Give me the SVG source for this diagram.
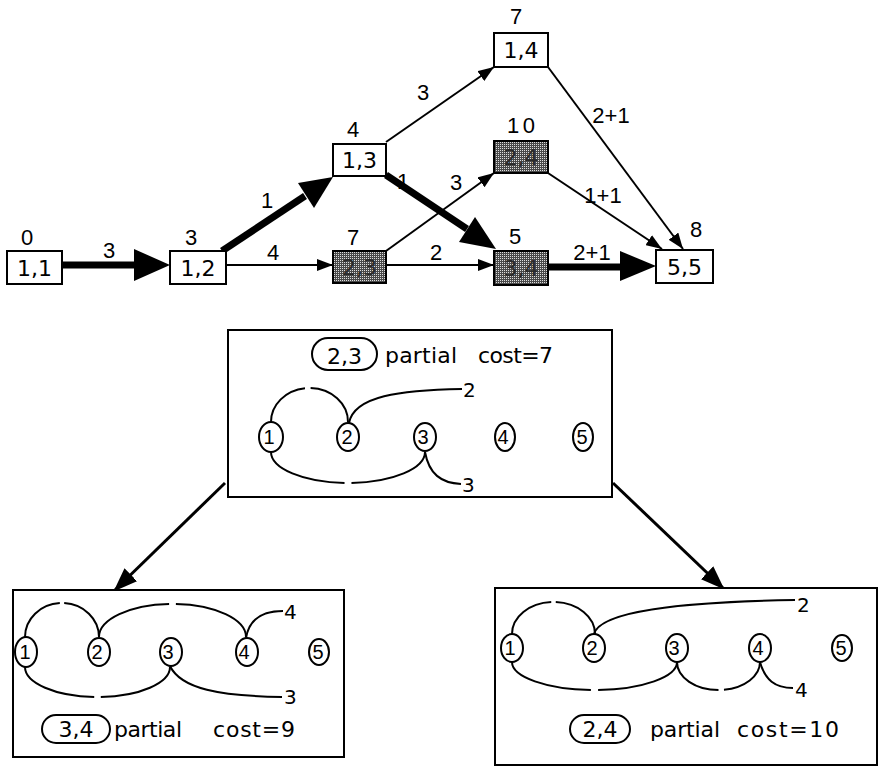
<svg xmlns="http://www.w3.org/2000/svg" width="879" height="768" viewBox="0 0 879 768">
<style>
text{font-family:'Liberation Sans',Arial,Helvetica,sans-serif;font-size:22px;fill:#000}
.d{font-family:'DejaVu Sans',Verdana,sans-serif;font-size:22px}
.m{text-anchor:middle}
.s{font-size:20px}
.box{fill:#fff;stroke:#000;stroke-width:2}
.sh{fill:url(#dots);stroke:#000;stroke-width:2}
.sht{fill:#2a2a2a}
.thin{stroke:#000;stroke-width:2;fill:none;marker-end:url(#ah)}
.thick{stroke:#000;stroke-width:7;fill:none}
.tree{stroke:#000;stroke-width:3;fill:none;marker-end:url(#ah2)}
.frame{fill:#fff;stroke:#000;stroke-width:2}
.arc{fill:none;stroke:#000;stroke-width:2}
.c{fill:none;stroke:#000;stroke-width:2}
</style>
<defs>
<pattern id="dots" width="2" height="2" patternUnits="userSpaceOnUse"><rect width="2" height="2" fill="#4a4a4a"/><rect width="1" height="1" fill="#ddd"/></pattern>
<marker id="ah" markerWidth="16" markerHeight="12" refX="16" refY="6" orient="auto" markerUnits="userSpaceOnUse"><path d="M0,0 L16,6 L0,12 z" fill="#000"/></marker>
<marker id="ah2" markerWidth="24" markerHeight="18" refX="22" refY="9" orient="auto" markerUnits="userSpaceOnUse"><path d="M0,0 L24,9 L0,18 z" fill="#000"/></marker>
</defs>
<rect width="879" height="768" fill="#fff"/>

<g id="connectors">
  <text x="403" y="189" class="m">1</text>
  <line x1="62" y1="265" x2="136" y2="265" class="thick"/>
  <polygon points="134,249 170,265 134,281"/>
  <line x1="222" y1="251" x2="305" y2="196" class="thick"/>
  <polygon points="298,183 333,177 314,208"/>
  <line x1="386" y1="175" x2="467" y2="229" class="thick"/>
  <polygon points="475,217 496,249 459,242"/>
  <line x1="548" y1="267" x2="622" y2="267" class="thick"/>
  <polygon points="620,251 656,266 620,281"/>
  <line x1="226" y1="265" x2="333" y2="265" class="thin"/>
  <line x1="386" y1="142" x2="494" y2="67" class="thin"/>
  <line x1="386" y1="251" x2="494" y2="173" class="thin"/>
  <line x1="386" y1="265" x2="494" y2="265" class="thin"/>
  <line x1="548" y1="67" x2="683" y2="249" class="thin"/>
  <line x1="548" y1="173" x2="662" y2="249" class="thin"/>
  <line x1="225" y1="483" x2="115" y2="590" class="tree"/>
  <line x1="613" y1="483" x2="723" y2="588" class="tree"/>
  <text x="109" y="258" class="m">3</text>
  <text x="267" y="208" class="m">1</text>
  <text x="273" y="260" class="m">4</text>
  <text x="423" y="100" class="m">3</text>
  <text x="611" y="123" class="m">2+1</text>
  <text x="456" y="190" class="m">3</text>
  <text x="603" y="203" class="m">1+1</text>
  <text x="436" y="260" class="m">2</text>
  <text x="592" y="260" class="m">2+1</text>
</g>

<g id="n11"><rect x="7" y="251" width="55" height="33" class="box"/><text x="34.5" y="276" class="m d">1,1</text><text x="27" y="245" class="m">0</text></g>
<g id="n12"><rect x="170" y="251" width="56" height="33" class="box"/><text x="198" y="276" class="m d">1,2</text><text x="191" y="245" class="m">3</text></g>
<g id="n13"><rect x="333" y="144" width="53" height="32" class="box"/><text x="359.5" y="168" class="m d">1,3</text><text x="353" y="137" class="m">4</text></g>
<g id="n23"><rect x="333" y="251" width="53" height="32" class="sh"/><text x="359.5" y="275" class="m d sht">2,3</text><text x="353" y="245" class="m">7</text></g>
<g id="n14"><rect x="494" y="33" width="54" height="34" class="box"/><text x="521" y="58" class="m d">1,4</text><text x="516" y="24" class="m">7</text></g>
<g id="n24"><rect x="494" y="141" width="54" height="32" class="sh"/><text x="521" y="165" class="m d sht">2,4</text><text x="521" y="133" class="m" textLength="28">10</text></g>
<g id="n34"><rect x="494" y="251" width="54" height="34" class="sh"/><text x="521" y="276" class="m d sht">3,4</text><text x="515" y="244" class="m">5</text></g>
<g id="n55"><rect x="656" y="250" width="57" height="33" class="box"/><text x="684.5" y="275" class="m d">5,5</text><text x="696" y="237" class="m">8</text></g>

<g id="p23">
  <rect x="228" y="330" width="384" height="167" class="frame"/>
  <rect x="312" y="338" width="65" height="32" rx="16" class="box"/>
  <text x="344.5" y="364" class="m d">2,3</text>
  <text x="385" y="363" class="d" textLength="72">partial</text>
  <text x="478" y="363" class="d" textLength="75">cost=7</text>
  <path d="M271,422 A38.5,34 0 0 1 348,422" class="arc" pathLength="100" stroke-dasharray="46 5 100"/>
  <path d="M349,423 C354,396 400,390 462,389" class="arc"/>
  <path d="M271,452 A77,31 0 0 0 425,452" class="arc" pathLength="100" stroke-dasharray="48 4 100"/>
  <path d="M425,452 C429,474 441,483 461,484" class="arc"/>
  <text x="463" y="397" class="d s">2</text>
  <text x="462" y="492" class="d s">3</text>
  <ellipse cx="271" cy="437" rx="12" ry="15" class="c"/><text x="269" y="444" class="m s">1</text>
  <ellipse cx="348" cy="437" rx="11" ry="14" class="c"/><text x="347" y="444" class="m s">2</text>
  <ellipse cx="425" cy="437" rx="11" ry="14" class="c"/><text x="423" y="444" class="m s">3</text>
  <ellipse cx="505" cy="437" rx="10" ry="14" class="c"/><text x="503" y="444" class="m s">4</text>
  <ellipse cx="583" cy="437" rx="10" ry="14" class="c"/><text x="582" y="444" class="m s">5</text>
</g>

<g id="p34">
  <rect x="13" y="590" width="331" height="167" class="frame"/>
  <path d="M25,637 A37,34 0 0 1 99,637" class="arc" pathLength="100" stroke-dasharray="48 4 100"/>
  <path d="M99,637 A73.5,33 0 0 1 246,637" class="arc" pathLength="100" stroke-dasharray="48 4 100"/>
  <path d="M246,638 C249,620 262,611 283,611" class="arc"/>
  <path d="M25,667 A72.5,30 0 0 0 170,667" class="arc" pathLength="100" stroke-dasharray="48 4 100"/>
  <path d="M170,666 C181,689 220,696 282,697" class="arc"/>
  <text x="284" y="619" class="d s">4</text>
  <text x="284" y="704" class="d s">3</text>
  <ellipse cx="26" cy="652" rx="11" ry="15" class="c"/><text x="25" y="659" class="m s">1</text>
  <ellipse cx="99" cy="652" rx="11" ry="14" class="c"/><text x="97" y="659" class="m s">2</text>
  <ellipse cx="171" cy="652" rx="11" ry="14" class="c"/><text x="168" y="659" class="m s">3</text>
  <ellipse cx="247" cy="652" rx="11" ry="14" class="c"/><text x="244" y="659" class="m s">4</text>
  <ellipse cx="319" cy="652" rx="10" ry="13" class="c"/><text x="318" y="659" class="m s">5</text>
  <rect x="42" y="715" width="68" height="28" rx="14" class="box"/>
  <text x="76" y="737" class="m d">3,4</text>
  <text x="114" y="737" class="d" textLength="68">partial</text>
  <text x="213" y="737" class="d" textLength="82">cost=9</text>
</g>

<g id="p24">
  <rect x="495" y="588" width="382" height="177" class="frame"/>
  <path d="M512,634 A41.5,32 0 0 1 595,634" class="arc" pathLength="100" stroke-dasharray="48 4 100"/>
  <path d="M594,634 C600,611 680,602 795,600" class="arc"/>
  <path d="M512,662 A82.5,28 0 0 0 677,662" class="arc" pathLength="100" stroke-dasharray="48 4 100"/>
  <path d="M677,662 A41.5,28 0 0 0 760,662" class="arc" pathLength="100" stroke-dasharray="50 5 100"/>
  <path d="M760,662 C765,680 775,688 793,688" class="arc"/>
  <text x="797" y="612" class="d s">2</text>
  <text x="795" y="697" class="d s">4</text>
  <ellipse cx="512" cy="648" rx="11" ry="14" class="c"/><text x="510" y="655" class="m s">1</text>
  <ellipse cx="594" cy="648" rx="11" ry="14" class="c"/><text x="592" y="655" class="m s">2</text>
  <ellipse cx="677" cy="648" rx="11" ry="14" class="c"/><text x="674" y="655" class="m s">3</text>
  <ellipse cx="760" cy="648" rx="11" ry="14" class="c"/><text x="758" y="655" class="m s">4</text>
  <ellipse cx="842" cy="648" rx="10" ry="13" class="c"/><text x="841" y="655" class="m s">5</text>
  <rect x="570" y="715" width="60" height="28" rx="14" class="box"/>
  <text x="600" y="737" class="m d">2,4</text>
  <text x="650" y="737" class="d" textLength="70">partial</text>
  <text x="737" y="737" class="d" textLength="102">cost=10</text>
</g>
</svg>
